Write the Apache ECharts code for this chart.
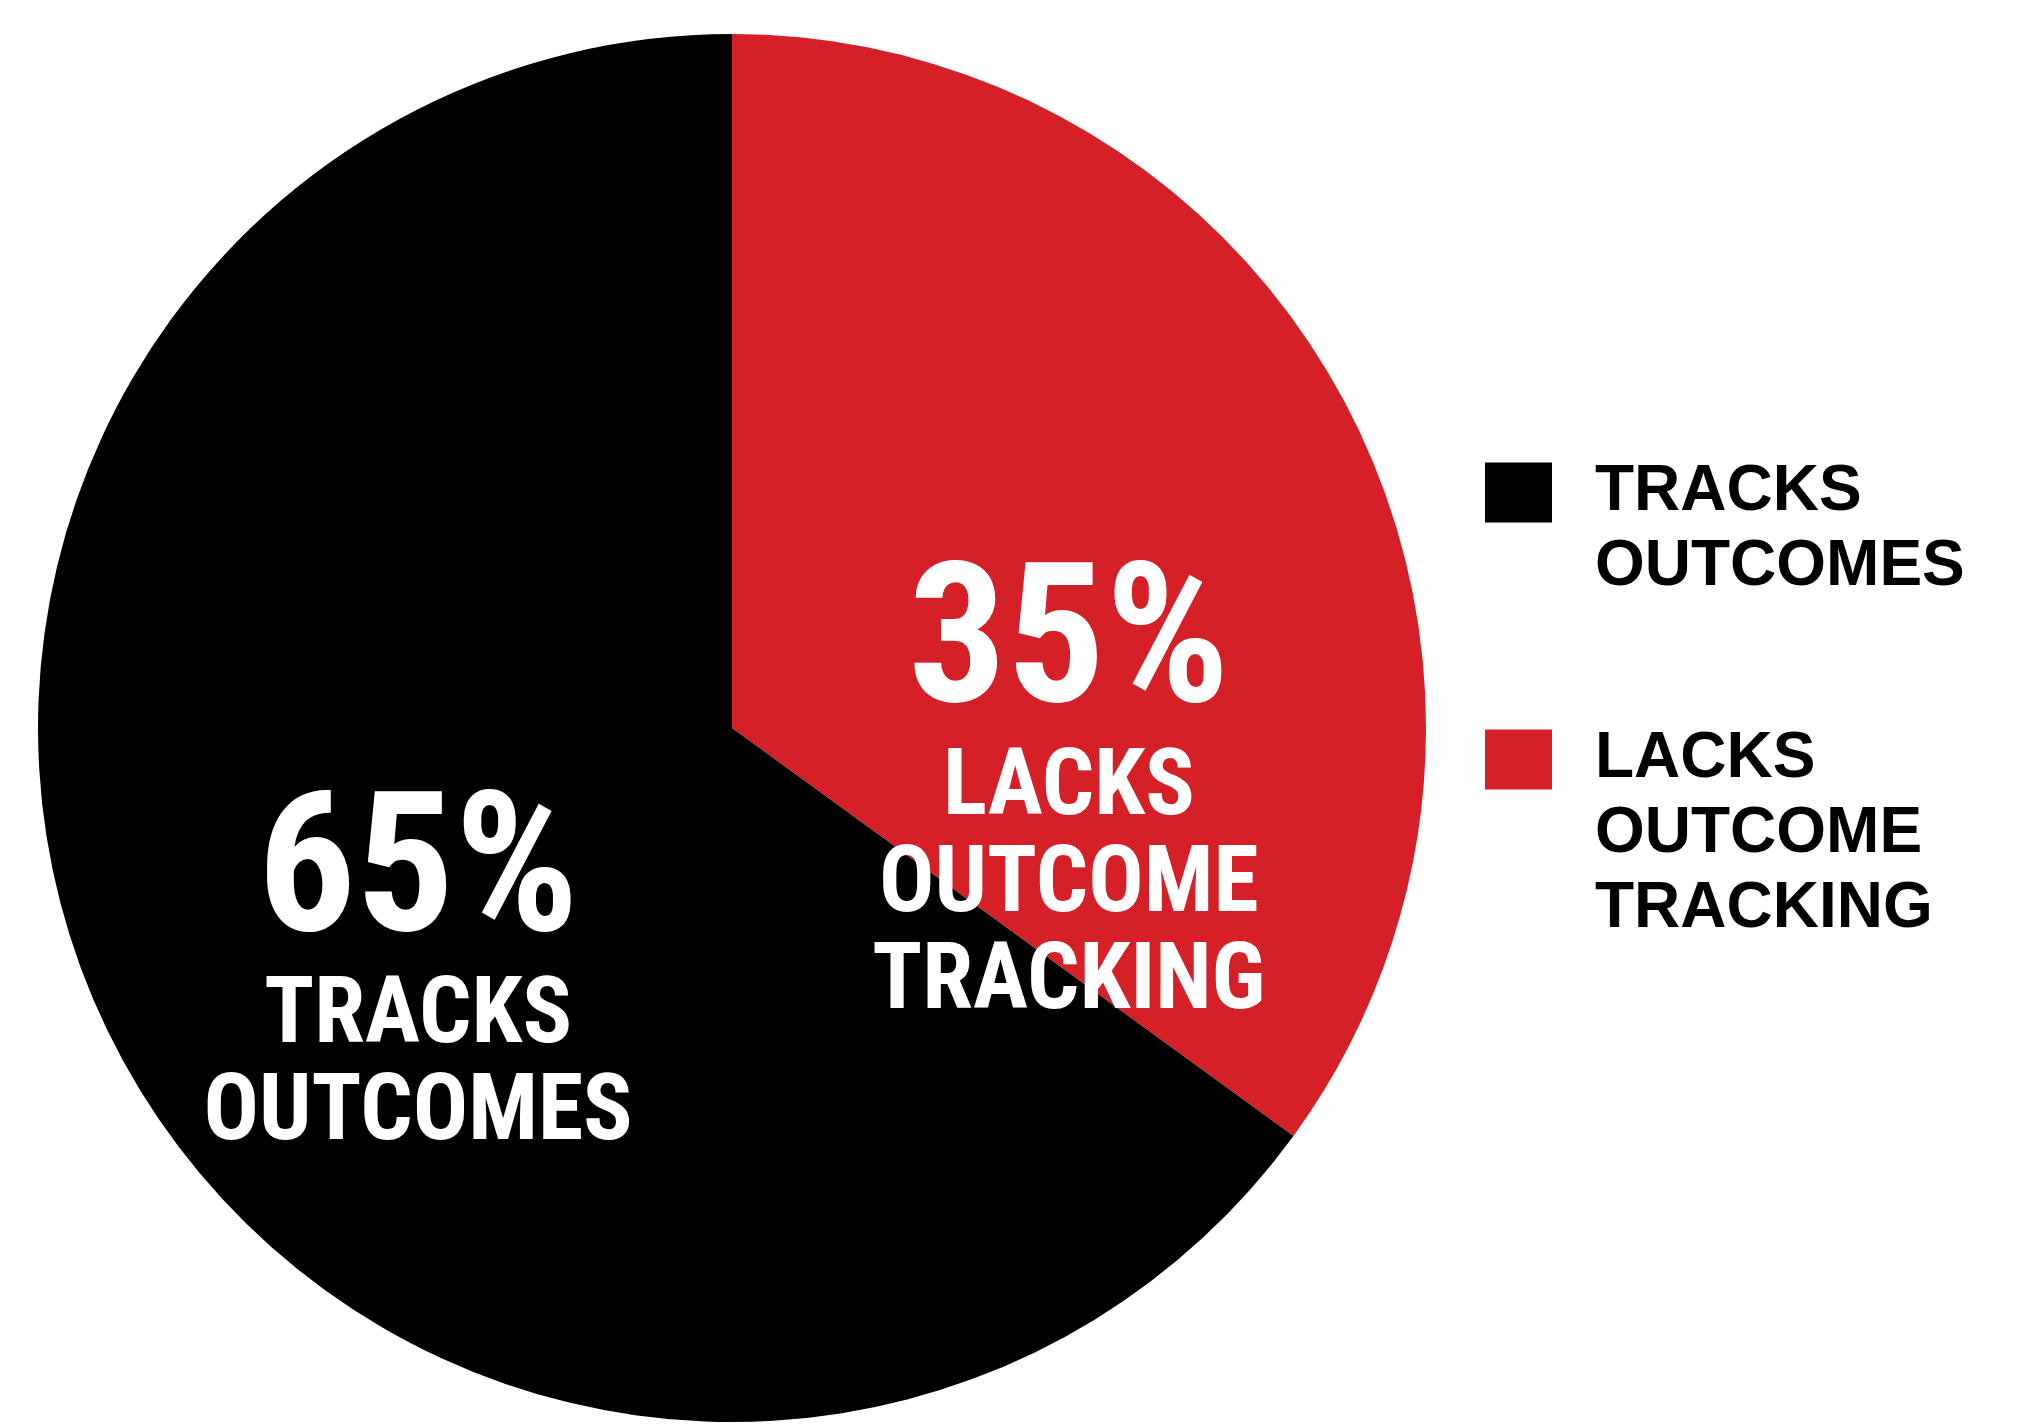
<!DOCTYPE html>
<html><head><meta charset="utf-8">
<script src="https://cdn.jsdelivr.net/npm/echarts@6/dist/echarts.min.js"></script>
<style>html,body{margin:0;padding:0;background:#fff;}#chart{width:2027px;height:1424px;}</style>
</head><body><div id="chart"></div>
<script>
const categories = ['TRACKS OUTCOMES', 'LACKS OUTCOME TRACKING'];
const values = [65, 35];
const colors = ['#000000', '#D52027'];
const lineBreaks = [['TRACKS', 'OUTCOMES'], ['LACKS', 'OUTCOME', 'TRACKING']];

const narrow = "'Liberation Sans Narrow', 'Roboto Condensed', 'DejaVu Sans Condensed', sans-serif";
const wide = "'Liberation Sans', Arial, sans-serif";

// red slice first, drawn clockwise from 12 o'clock
const order = [1, 0];
const pieData = order.map(i => ({ name: categories[i], value: values[i], itemStyle: { color: colors[i] } }));
const labelShift = [{ dx: 25, dy: 229 }, { dx: -2, dy: 91 }];

// legend: icon aligned with the first text line (blank lines above keep the block centred on line 1)
const LEGEND_LH = 75;
const legendTops = [380, 572];
function legendFor(i) {
  return {
    orient: 'vertical', left: 1485, top: legendTops[i], padding: 0,
    itemWidth: 67, itemHeight: 60, icon: 'rect', selectedMode: false,
    textStyle: { fontFamily: wide, fontWeight: 'bold', fontSize: 64, lineHeight: LEGEND_LH, color: '#000', padding: [0, 0, 0, 38] },
    data: [categories[i]],
    formatter: name => {
      const lines = lineBreaks[categories.indexOf(name)];
      return '\n'.repeat(lines.length - 1) + lines.join('\n');
    }
  };
}

const chart = echarts.init(document.getElementById('chart'), null, { renderer: 'canvas' });
chart.setOption({
  backgroundColor: '#fff',
  animation: false,
  legend: [legendFor(0), legendFor(1)],
  series: [{
    type: 'pie',
    center: [732, 728],
    radius: 694,
    startAngle: 90,
    clockwise: true,
    silent: true,
    itemStyle: { borderWidth: 0 },
    emphasis: { disabled: true },
    labelLine: { show: false },
    label: {
      show: true,
      position: 'inside',
      color: '#fff',
      formatter: p => {
        const lines = lineBreaks[categories.indexOf(p.name)];
        return `{pct|${p.value}%}\n` + lines.map(l => `{txt|${l}}`).join('\n');
      },
      rich: {
        pct: { fontFamily: narrow, fontWeight: 'bold', fontSize: 195, lineHeight: 180, color: '#fff', align: 'center' },
        txt: { fontFamily: narrow, fontWeight: 'bold', fontSize: 92, lineHeight: 97, color: '#fff', align: 'center' }
      }
    },
    labelLayout: params => labelShift[params.dataIndex],
    data: pieData
  }]
});
</script>
</body></html>
